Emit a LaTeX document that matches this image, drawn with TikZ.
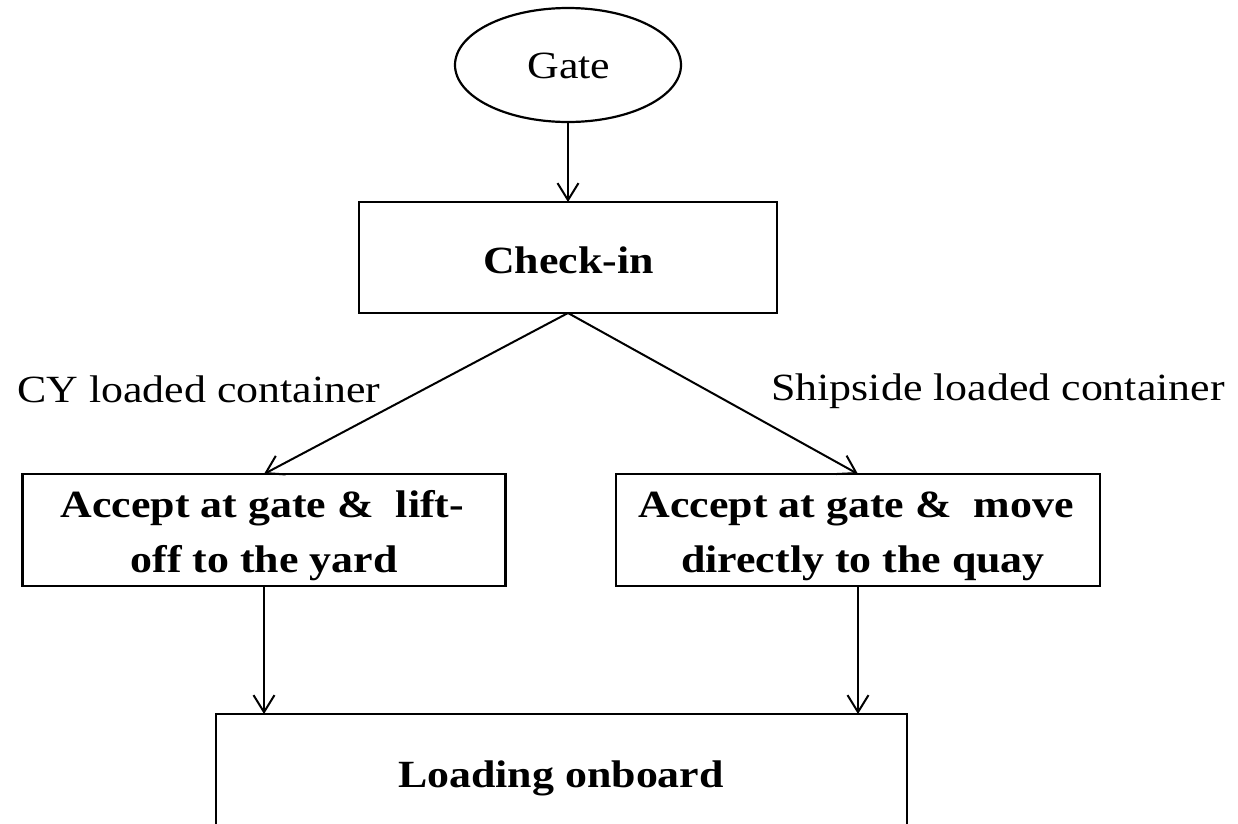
\documentclass[tikz,border=0pt]{standalone}
\usepackage{fontspec}
\setmainfont[FakeStretch=1.14]{Liberation Serif}
\usetikzlibrary{shapes.geometric,arrows.meta}
\begin{document}
\begin{tikzpicture}[x=1pt,y=-1pt,
  box/.style={draw, line width=2.4pt, inner sep=0pt, outer sep=0pt, rectangle},
  oval/.style={draw, line width=2.2pt, ellipse, inner sep=0pt, outer sep=0pt},
  btxt/.style={font=\bfseries\fontsize{38.5}{55}\selectfont, inner sep=0pt, anchor=base},
  rtxt/.style={font=\fontsize{38.5}{44}\selectfont, inner sep=0pt},
  arr/.style={-{Straight Barb[length=17pt,width=21pt,line width=2pt]}, line width=2pt}]
\useasboundingbox (0,0) rectangle (1238,823);
% shapes
\node[oval, minimum width=226pt, minimum height=114pt] (gate) at (568,65) {};
\node[box, minimum width=418pt, minimum height=111pt] (check) at (568,257.5) {};
\node[box, minimum width=483pt, minimum height=112pt] (lbox) at (264,530) {};
\node[box, minimum width=484pt, minimum height=112pt] (rbox) at (858,530) {};
\node[box, minimum width=691pt, minimum height=220pt] (bot) at (561.5,824) {};
% texts
\node[rtxt, anchor=base] (tgate) at (569,78) {Gate};
\node[btxt] (tcheck) at (568.5,273) {Check-in};
\node[btxt] (tl1) at (262.5,517) {Accept at gate \&\ \ lift-};
\node[btxt] (tl2) at (264,572) {off to the yard};
\node[btxt] (tr1) at (856,517) {Accept at gate \&\ \ move};
\node[btxt] (tr2) at (863,572) {directly to the quay};
\node[btxt] (tbot) at (561,787) {Loading onboard};
\node[rtxt, anchor=base west] (cy) at (17,402) {CY loaded container};
\node[rtxt, anchor=base east] (ship) at (1225,400) {Shipside loaded container};
% connectors
\draw[arr] (gate.south) -- (check.north);
\draw[arr] (check.south) -- (lbox.north);
\draw[arr] (check.south) -- (rbox.north);
\draw[arr] (lbox.south) -- (lbox.south |- bot.north);
\draw[arr] (rbox.south) -- (rbox.south |- bot.north);
\end{tikzpicture}
\end{document}
